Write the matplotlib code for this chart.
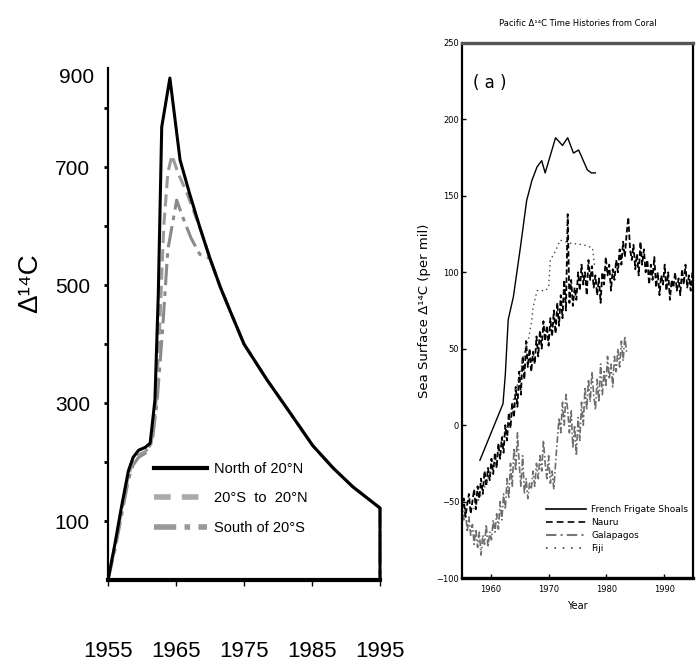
import numpy as np
import matplotlib
matplotlib.use("Agg")
import matplotlib.pyplot as plt
from matplotlib.lines import Line2D

# ---------------- Left panel data (Delta 14C, model by latitude band) ----------------
north_years = [1955, 1956, 1957, 1958, 1958.7, 1959.5, 1960.5, 1961.2, 1961.9, 1962.4, 1962.9, 1964.1, 1965.6, 1967.0, 1968.5]
north_vals = [0, 60, 125, 185, 208, 220, 225, 232, 305, 486, 768, 851, 712, 655, 598]
mid_years = [1955, 1956, 1957, 1958, 1958.7, 1959.5, 1960.5, 1961.3, 1962.0, 1962.6, 1963.2, 1963.8, 1964.4, 1965.3, 1966.6, 1968.5]
mid_vals = [0, 55, 118, 178, 200, 212, 218, 228, 290, 430, 600, 690, 720, 690, 656, 598]
south_years = [1955, 1956, 1957, 1958, 1958.7, 1959.5, 1960.5, 1961.5, 1962.2, 1963.0, 1963.8, 1965.1, 1966.0, 1967.2, 1968.5]
south_vals = [0, 50, 110, 170, 195, 208, 215, 235, 300, 420, 560, 644, 615, 580, 552]
tail_years = [1970, 1971.5, 1973, 1975, 1978.4, 1981.8, 1985.1, 1988.1, 1991.0, 1995, 1995]
tail_vals = [545, 497, 455, 400, 339, 283, 228, 190, 158, 122, 0]
left_labels = ["North of 20°N", "20°S  to  20°N", "South of 20°S"]
left_xticks = [1955, 1965, 1975, 1985, 1995]
left_ylabels = ["100", "300", "500", "700"]

# ---------------- Right panel data (Pacific coral records) ----------------
ffs_years = [1958.1, 1962.1, 1962.5, 1963.0, 1963.9, 1965.1, 1966.2, 1967.1, 1968.0, 1968.8, 1969.4,
             1971.2, 1972.4, 1973.3, 1974.3, 1975.2, 1976.7, 1977.4, 1978.1]
ffs_vals = [-23, 14, 33, 69, 84, 116, 147, 160, 169, 173, 165, 188, 183, 188, 178, 180, 167, 165, 165]

fiji_years = [1957.0, 1958.0, 1959.0, 1960.0, 1961.0, 1962.0, 1963.0, 1964.0, 1965.1, 1965.6, 1966.5,
              1967.1, 1967.3, 1968.0, 1969.4, 1970.0, 1970.3, 1971.2, 1972.0, 1973.8, 1976.0, 1977.6, 1978.0]
fiji_vals = [-55, -48, -40, -30, -20, -8, 2, 18, 34, 45, 56, 69, 77, 88, 88, 90, 108, 114, 121, 119, 118, 116, 103]

nauru_start = 1955.0
nauru_step = 0.3
nauru_vals = [-55, -48, -60, -52, -45, -58, -50, -42, -55, -40, -48, -35, -45, -30, -40, -28, -36, -22,
              -32, -18, -28, -12, -22, -8, -18, 0, -10, 8, -2, 15, 5, 25, 12, 35, 20, 45, 30, 55, 38, 50,
              35, 48, 40, 58, 45, 62, 50, 68, 55, 65, 52, 70, 58, 75, 60, 80, 65, 85, 70, 95, 75, 138, 80,
              95, 78, 90, 82, 100, 88, 105, 92, 100, 85, 108, 95, 104, 90, 98, 85, 96, 80, 100, 92, 110,
              98, 105, 88, 102, 95, 108, 100, 115, 105, 120, 110, 125, 136, 115, 108, 118, 102, 112, 98,
              120, 105, 115, 100, 108, 92, 105, 95, 110, 90, 100, 85, 98, 92, 105, 88, 100, 82, 95, 90,
              100, 88, 96, 85, 102, 92, 105, 90, 98, 88, 100, 92]

gala_start = 1955.0
gala_step = 0.3
gala_vals = [-50, -62, -55, -70, -60, -72, -65, -78, -68, -80, -70, -85, -72, -78, -65, -80, -70, -75,
             -62, -70, -58, -68, -50, -62, -45, -55, -35, -48, -25, -40, -15, -30, -5, -25, -40, -20,
             -45, -35, -48, -38, -42, -30, -40, -25, -35, -20, -30, -10, -25, -35, -20, -38, -30, -42,
             -25, -10, 5, -5, 15, 0, 20, 10, -5, 10, -15, 0, -20, 5, -10, 15, 0, 25, 10, 30, 15, 35, 20,
             10, 30, 15, 40, 20, 35, 25, 45, 30, 40, 25, 45, 35, 50, 38, 55, 42, 58, 48]

right_labels = ["French Frigate Shoals", "Nauru", "Galapagos", "Fiji"]

nauru_years = nauru_start + nauru_step * np.arange(len(nauru_vals))
gala_years = gala_start + gala_step * np.arange(len(gala_vals))

# ---------------- Figure ----------------
W, H = 698, 671
fig = plt.figure(figsize=(W / 100, H / 100), dpi=100)
lfont = ["Liberation Sans", "DejaVu Sans"]

# Left axes
axL = fig.add_axes([108 / W, 1 - 580 / H, (380 - 108) / W, (580 - 68) / H])
axL.set_xlim(1955, 1995)
axL.set_ylim(0, 868)
axL.plot(south_years + tail_years, south_vals + tail_vals, color="#8a8a8a", lw=2.2,
         dashes=(7, 2, 1.5, 2), clip_on=False)
axL.plot(mid_years + tail_years, mid_vals + tail_vals, color="#9a9a9a", lw=2.2,
         dashes=(4, 2), clip_on=False)
axL.plot(north_years + tail_years, north_vals + tail_vals, color="black", lw=2.2, clip_on=False)

for s in ["top", "right"]:
    axL.spines[s].set_visible(False)
axL.spines["left"].set_linewidth(1.6)
axL.spines["bottom"].set_linewidth(3.0)
axL.set_yticks(np.arange(100, 900, 100))
axL.set_yticklabels([left_ylabels[i // 2] if i % 2 == 0 else "" for i in range(8)])
axL.set_xticks(left_xticks)
axL.set_xticklabels([str(t) for t in left_xticks])
axL.tick_params(axis="y", length=3, width=2, pad=10, labelsize=15)
axL.tick_params(axis="x", length=4, width=1, pad=40, labelsize=16)
for lab in axL.get_yticklabels() + axL.get_xticklabels():
    lab.set_family(lfont)
axL.text(-0.05, 0.982, "900", transform=axL.transAxes, ha="right", va="center",
         fontsize=15, family=lfont)
fig.text(30 / W, 1 - 283 / H, "Δ¹⁴C", rotation=90, ha="center", va="center",
         fontsize=20, family=lfont)

handlesL = [Line2D([], [], color="black", lw=3),
            Line2D([], [], color="#aaaaaa", lw=4, dashes=(3, 2)),
            Line2D([], [], color="#999999", lw=4, dashes=(4, 1.5, 1, 1.5))]
legL = fig.legend(handlesL, left_labels, loc="upper left", bbox_to_anchor=(154 / W, 1 - 462 / H),
                  frameon=False, prop={"family": lfont, "size": 10.5},
                  handlelength=3.6, handletextpad=0.5, labelspacing=1.05, borderpad=0, borderaxespad=0)

# Right axes
axR = fig.add_axes([462 / W, 1 - 578 / H, (693 - 462) / W, (578 - 43) / H])
axR.set_xlim(1955, 1995)
axR.set_ylim(-100, 250)
axR.plot(gala_years, gala_vals, color="#6e6e6e", lw=1.2, dashes=(4, 1.5, 1, 1.5))
axR.plot(nauru_years, nauru_vals, color="black", lw=1.3, dashes=(3, 1.5))
axR.plot(fiji_years, fiji_vals, color="#444444", lw=1.0, linestyle=(0, (1, 2.5)))
axR.plot(ffs_years, ffs_vals, color="black", lw=1.0)
for s in axR.spines.values():
    s.set_linewidth(1.6)
axR.spines["bottom"].set_linewidth(2.4)
axR.spines["top"].set_linewidth(2.4)
axR.spines["top"].set_color("#555555")
axR.set_yticks(np.arange(-100, 251, 50))
axR.set_xticks([1960, 1970, 1980, 1990])
axR.tick_params(direction="in", length=3, width=1, labelsize=6, pad=2)
axR.tick_params(axis="x", pad=5)
axR.set_xlabel("Year", fontsize=7, labelpad=5)
axR.set_ylabel("Sea Surface Δ¹⁴C (per mil)", fontsize=9.5, labelpad=4)
axR.set_title("Pacific Δ¹⁴C Time Histories from Coral", fontsize=6, pad=12)
axR.text(0.12, 0.925, "( a )", transform=axR.transAxes, ha="center", va="center", fontsize=12)

handlesR = [Line2D([], [], color="black", lw=1.2),
            Line2D([], [], color="black", lw=1.2, dashes=(4, 2.5)),
            Line2D([], [], color="#777777", lw=1.5, dashes=(5, 2, 1, 2)),
            Line2D([], [], color="#444444", lw=1.2, linestyle=(0, (1, 4)))]
axR.legend(handlesR, right_labels, loc="upper left", bbox_to_anchor=(546 / W, 1 - 505 / H),
           bbox_transform=fig.transFigure, frameon=False, fontsize=6.5,
           handlelength=4.4, handletextpad=0.6, labelspacing=0.45, borderpad=0, borderaxespad=0)

fig.savefig("out.png", dpi=100)
